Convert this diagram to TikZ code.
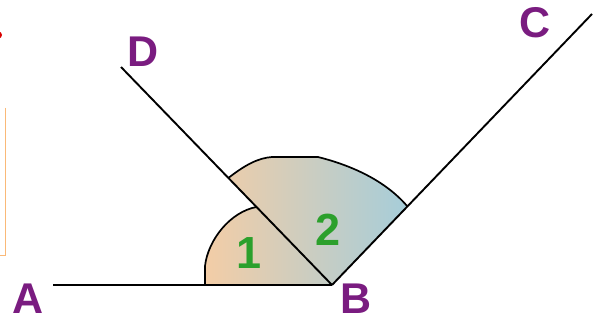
\documentclass[tikz,border=0pt]{standalone}
\usepackage{fontspec}
\setmainfont{Liberation Sans}
\usetikzlibrary{calc}
\begin{document}
\begin{tikzpicture}[x=1pt,y=-1pt,
  ray/.style={line width=1.9pt, black},
  ptlabel/.style={text=ptpurple, font=\fontsize{43}{43}\bfseries\selectfont, inner sep=0pt},
  anglabel/.style={text=anggreen, font=\fontsize{45}{45}\bfseries\selectfont, inner sep=0pt},
  edge/.style={line width=1.7pt, black}]
\definecolor{ptpurple}{RGB}{122,28,128}
\definecolor{anggreen}{RGB}{44,160,44}
\definecolor{peach}{RGB}{245,205,165}
\definecolor{midgrey}{RGB}{215,212,200}
\definecolor{lblue}{RGB}{165,205,218}
\definecolor{orangeedge}{RGB}{250,185,120}
\useasboundingbox[fill=white] (0,0) rectangle (593,323);
% corner artefacts
\fill[red!85!black] (-1.5,35) circle (3.5);
\draw[orangeedge, line width=1pt] (5,108) -- (5,255) -- (0,255);
% points
\coordinate (B) at (332,285);
\coordinate (A) at (53,285);
\coordinate (D) at (121,67);
\coordinate (C) at (592,14);
\coordinate (a1s) at (205,285);
\coordinate (a1e) at ($(B)!0.358!(D)$);
\coordinate (a2s) at ($(B)!0.491!(D)$);
\coordinate (a2e) at ($(B)!0.29!(C)$);
% shaded sectors
\begin{scope}
  \clip (a1s) -- (205,266) .. controls (208,240) and (230,212) .. (a1e) -- (B) -- cycle
        (B) -- (a2s) .. controls (245,165) and (258,158) .. (272,157) -- (318,157)
            .. controls (350,165) and (385,180) .. (a2e) -- cycle;
  \shade[left color=peach, middle color=midgrey, right color=lblue] (200,150) rectangle (410,290);
\end{scope}
\draw[edge] (a1s) -- (205,266) .. controls (208,240) and (230,212) .. (a1e);
\draw[edge] (a2s) .. controls (245,165) and (258,158) .. (272,157) -- (318,157)
            .. controls (350,165) and (385,180) .. (a2e);
% rays
\draw[ray] (A) -- (B);
\draw[ray] (B) -- (D);
\draw[ray] (B) -- (C);
% labels
\node[ptlabel] (lA) at (28,299) {A};
\node[ptlabel] (lB) at (356,299) {B};
\node[ptlabel] (lD) at (143,52) {D};
\node[ptlabel] (lC) at (535,23) {C};
\node[anglabel] (l1) at (249,253) {1};
\node[anglabel] (l2) at (328,230) {2};
\end{tikzpicture}
\end{document}
